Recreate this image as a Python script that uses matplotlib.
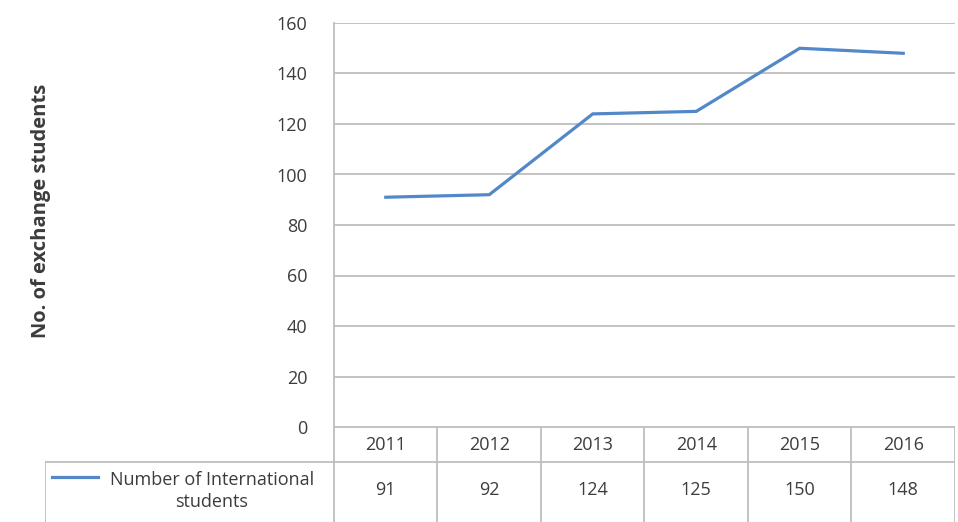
import numpy as np
import matplotlib
matplotlib.use("Agg")
import matplotlib.pyplot as plt

plt.rcParams['font.family'] = ['Open Sans', 'DejaVu Sans']

# yearly counts
years = ['2011', '2012', '2013', '2014', '2015', '2016']
students = [91, 92, 124, 125, 150, 148]
series_name = 'Number of International\nstudents'
y_ticks = [0, 20, 40, 60, 80, 100, 120, 140, 160]
y_label = 'No. of exchange students'

W, H = 958, 522
line_col = '#5388C8'
grid_col = '#BEBEBE'
text_col = '#3C3C3C'
fs = 13

fig = plt.figure(figsize=(W / 100, H / 100), dpi=100)

def px_axes(x0, y0, x1, y1):
    # axes from pixel box (top-left origin)
    return fig.add_axes([x0 / W, 1 - y1 / H, (x1 - x0) / W, (y1 - y0) / H])

# plot area
ax = px_axes(334, 23, 955, 427)
x = np.arange(len(years))
ax.plot(x, students, color=line_col, lw=2.3, solid_joinstyle='miter')
ax.set_xlim(-0.5, len(years) - 0.5)
ax.set_ylim(0, 160)
ax.set_yticks(y_ticks)
ax.set_xticks([])
ax.yaxis.grid(True, color=grid_col, lw=1.3)
ax.set_axisbelow(True)
for s in ['top', 'right', 'bottom']:
    ax.spines[s].set_visible(False)
ax.spines['left'].set_color(grid_col)
ax.spines['left'].set_linewidth(1.3)
ax.tick_params(axis='y', colors=text_col, labelsize=fs, length=0, pad=19)
for t in ax.get_yticklabels():
    t.set_color(text_col)
fig.text(41 / W, 1 - 211 / H, y_label, rotation=90, ha='center', va='center',
         fontsize=fs + 1.5, fontweight='bold', color=text_col)

# data table under the plot
left_px = 45
tab = px_axes(left_px, 427, 955, 522)
span = (955 - 334) / len(years)
x_left = -0.5 - (334 - left_px) / span
tab.set_xlim(x_left, len(years) - 0.5)
tab.set_ylim(0, 95)
tab.axis('off')
kw = dict(color=grid_col, lw=1.3)
tab.plot([-0.5, len(years) - 0.5], [95, 95], **kw)
tab.plot([x_left, len(years) - 0.5], [60, 60], **kw)
tab.plot([x_left, x_left], [0, 60], **kw)
for i in range(len(years) + 1):
    tab.plot([i - 0.5, i - 0.5], [0, 95], **kw)
for i, (yr, v) in enumerate(zip(years, students)):
    tab.text(i, 77, yr, ha='center', va='center', fontsize=fs, color=text_col)
    tab.text(i, 32, str(v), ha='center', va='center', fontsize=fs, color=text_col)
# legend key in the first column
sw0 = x_left + 7 / span
sw1 = x_left + 53 / span
tab.plot([sw0, sw1], [45, 45], color=line_col, lw=2.3)
tab.text(x_left + 167 / span, 31, series_name, ha='center', va='center',
         fontsize=fs, color=text_col, linespacing=1.35)

fig.savefig('out.png', dpi=100)
